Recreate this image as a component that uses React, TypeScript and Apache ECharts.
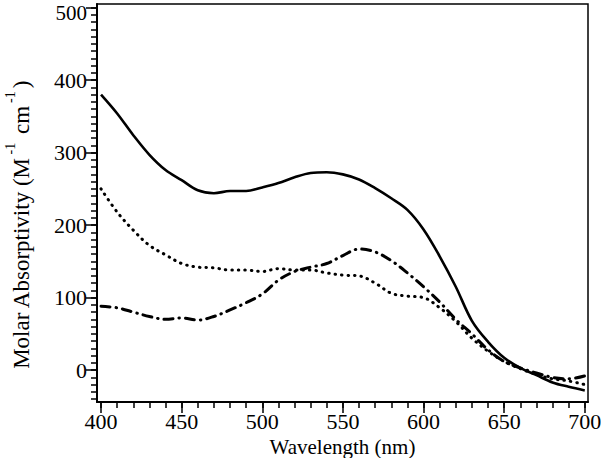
import React, { useEffect, useRef } from "react";
import * as echarts from "echarts";

const wavelengths = [400, 410, 420, 430, 440, 450, 460, 470, 480, 490, 500, 510, 520, 530, 540, 550, 560, 570, 580, 590, 600, 610, 620, 630, 640, 650, 660, 670, 680, 690, 700];
const solidSeries = [380, 354, 324, 297, 276, 262, 248, 244, 247, 247, 252, 258, 266, 272, 273, 270, 263, 251, 237, 221, 194, 157, 115, 68, 39, 17, 3, -7, -17, -23, -28];
const dottedSeries = [250, 218, 193, 172, 159, 147, 142, 141, 138, 138, 136, 140, 138, 138, 134, 131, 130, 120, 106, 102, 100, 86, 67, 44, 26, 12, 2, -6, -12, -15, -20];
const dashDotSeries = [88, 86, 80, 74, 70, 72, 69, 74, 83, 93, 105, 124, 136, 142, 147, 158, 167, 163, 151, 134, 115, 94, 70, 50, 28, 12, 3, -4, -10, -12, -8];

const xMajorTicks = [400, 450, 500, 550, 600, 650, 700];
const xMinorTicks = [400, 410, 420, 430, 440, 450, 460, 470, 480, 490, 500, 510, 520, 530, 540, 550, 560, 570, 580, 590, 600, 610, 620, 630, 640, 650, 660, 670, 680, 690, 700];
const yMajorTicks = [0, 100, 200, 300, 400, 500];
const yMinorTicks = [-40, -30, -20, -10, 0, 10, 20, 30, 40, 50, 60, 70, 80, 90, 100, 110, 120, 130, 140, 150, 160, 170, 180, 190, 200, 210, 220, 230, 240, 250, 260, 270, 280, 290, 300, 310, 320, 330, 340, 350, 360, 370, 380, 390, 400, 410, 420, 430, 440, 450, 460, 470, 480, 490, 500];

const X_MIN = 397.5;
const X_MAX = 702;
const Y_MIN = -44;
const Y_MAX = 505;

const FONT = "Times New Roman";

export default function App() {
  const ref = useRef<HTMLDivElement>(null);

  useEffect(() => {
    if (!ref.current) return;
    const chart = echarts.init(ref.current, null, { renderer: "svg" });
    const pts = (vals: number[]) => wavelengths.map((w, i) => [w, vals[i]]);
    const axisLine = { show: true, onZero: false, lineStyle: { color: "#000", width: 2 } };

    chart.setOption({
      animation: false,
      backgroundColor: "#fff",
      grid: {
        left: 97,
        right: 13,
        top: 4,
        bottom: 56,
        outerBoundsMode: "none",
        containLabel: false,
        show: true,
        borderColor: "#000",
        borderWidth: 1.5,
        backgroundColor: "transparent",
      },
      xAxis: [
        {
          type: "value",
          min: X_MIN,
          max: X_MAX,
          position: "bottom",
          axisLine,
          splitLine: { show: false },
          axisTick: { show: true, inside: false, length: 11, customValues: xMajorTicks, lineStyle: { color: "#000", width: 1.5 } },
          axisLabel: {
            customValues: xMajorTicks,
            color: "#000",
            fontFamily: FONT,
            fontSize: 22,
            margin: 8,
          },
          name: "Wavelength (nm)",
          nameLocation: "middle",
          nameGap: 32,
          nameTextStyle: { color: "#000", fontFamily: FONT, fontSize: 21, lineHeight: 21 },
        },
        {
          type: "value",
          min: X_MIN,
          max: X_MAX,
          position: "bottom",
          gridIndex: 0,
          axisLine: { show: false, onZero: false },
          splitLine: { show: false },
          axisTick: { show: true, inside: false, length: 6, customValues: xMinorTicks, lineStyle: { color: "#000", width: 1.5 } },
          axisLabel: { show: false },
        },
      ],
      yAxis: [
        {
          type: "value",
          min: Y_MIN,
          max: Y_MAX,
          position: "left",
          axisLine,
          splitLine: { show: false },
          axisTick: { show: true, inside: false, length: 11, customValues: yMajorTicks, lineStyle: { color: "#000", width: 1.5 } },
          axisLabel: {
            customValues: yMajorTicks,
            color: "#000",
            fontFamily: FONT,
            fontSize: 22,
            lineHeight: 14,
            margin: 10,
            formatter: (v: number) => (v === 500 ? `{top|${v}}` : `${v}`),
            rich: {
              top: { color: "#000", fontFamily: FONT, fontSize: 21, lineHeight: 14, padding: [10, 0, 0, 0] },
            },
          },
          name: "{a|Molar Absorptivity (M}{s|-1}{a| cm}{s|-1}{a|)}",
          nameLocation: "middle",
          nameGap: 64,
          nameRotate: 90,
          nameTextStyle: {
            color: "#000",
            fontFamily: FONT,
            fontSize: 23,
            padding: [0, 44, 0, 0],
            rich: {
              a: { color: "#000", fontFamily: FONT, fontSize: 23, lineHeight: 30, verticalAlign: "bottom" },
              s: { color: "#000", fontFamily: FONT, fontSize: 14, lineHeight: 30, verticalAlign: "top", padding: [0, 3, 0, 3] },
            },
          },
        },
        {
          type: "value",
          min: Y_MIN,
          max: Y_MAX,
          position: "left",
          gridIndex: 0,
          axisLine: { show: false, onZero: false },
          splitLine: { show: false },
          axisTick: { show: true, inside: false, length: 6, customValues: yMinorTicks, lineStyle: { color: "#000", width: 1.5 } },
          axisLabel: { show: false },
        },
      ],
      series: [
        {
          type: "line",
          name: "solid",
          data: pts(solidSeries),
          showSymbol: false,
          smooth: 0.35,
          lineStyle: { color: "#000", width: 2.6, type: "solid" },
          z: 3,
        },
        {
          type: "line",
          name: "dotted",
          data: pts(dottedSeries),
          showSymbol: false,
          smooth: 0.35,
          lineStyle: { color: "#000", width: 3, type: [0.5, 6], cap: "round" },
          z: 2,
        },
        {
          type: "line",
          name: "dashdot",
          data: pts(dashDotSeries),
          showSymbol: false,
          smooth: 0.35,
          lineStyle: { color: "#000", width: 3, type: [9, 6, 0.5, 6], cap: "round" },
          z: 2,
        },
      ],
    });

    return () => chart.dispose();
  }, []);

  return <div ref={ref} style={{ width: 601, height: 458, position: "absolute", left: 0, top: 0 }} />;
}
